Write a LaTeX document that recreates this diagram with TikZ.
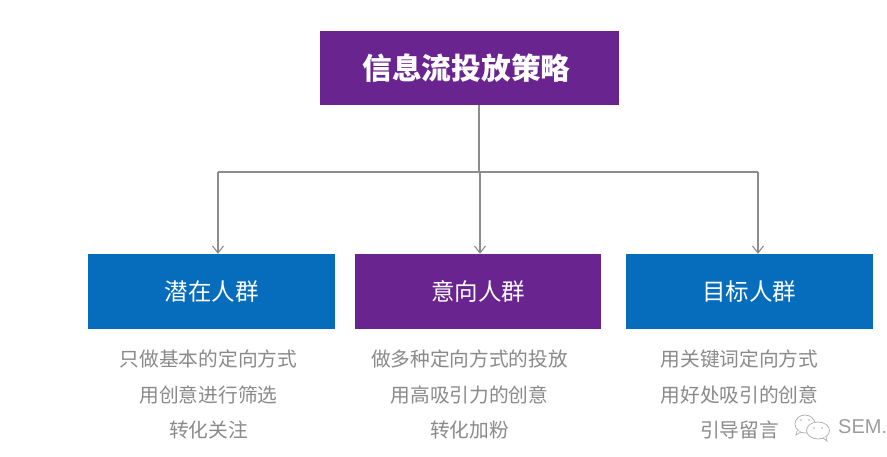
\documentclass[tikz,border=0pt]{standalone}
\usepackage{fontspec}
\newfontfamily\cjk{Noto Sans CJK SC}
\setmainfont{Liberation Sans}
\usetikzlibrary{arrows.meta}
\definecolor{purp}{HTML}{6A2490}
\definecolor{blu}{HTML}{066CBC}
\definecolor{txt}{HTML}{8A8A8A}
\definecolor{lin}{HTML}{8C8C8C}
\tikzset{x=1pt,y=-1pt,
 boxnode/.style={minimum height=75pt,inner sep=0pt,text=white,font=\cjk\fontsize{23.5}{26}\selectfont},
 desc/.style={text=txt,font=\cjk\fontsize{19.7}{22}\selectfont,inner sep=0pt},
 conn/.style={draw=lin,line width=1.1pt},
 arr/.style={conn,-{Straight Barb[length=7pt,width=11pt]}},
 icon/.style={draw=txt!70,line width=0.7pt,fill=white}}
\begin{document}
\begin{tikzpicture}
\useasboundingbox[fill=white] (0,0) rectangle (887,456);
\node[boxnode,fill=purp,minimum width=299pt,minimum height=74pt,font=\cjk\bfseries\fontsize{29.7}{32}\selectfont] (top) at (469,68) {信息流投放策略\hspace*{5pt}};
\node[boxnode,fill=blu,minimum width=247pt] (a) at (211.5,291.5) {潜在人群};
\node[boxnode,fill=purp,minimum width=246pt] (b) at (478,291.5) {意向人群};
\node[boxnode,fill=blu,minimum width=247pt] (c) at (749,291.5) {目标人群};
\coordinate (j) at (479,172);
\coordinate (jl) at (218,172);
\coordinate (jm) at (480,172);
\coordinate (jr) at (758,172);
\draw[conn] (top.south -| j) -- (j);
\draw[conn] (jl) -- (jr);
\draw[arr] (jl) -- (jl |- a.north);
\draw[arr] (jm) -- (jm |- b.north);
\draw[arr] (jr) -- (jr |- c.north);
\node[desc] (a1) at (208.5,359) {只做基本的定向方式};
\node[desc] (a2) at (208.5,394.5) {用创意进行筛选};
\node[desc] (a3) at (208.5,430) {转化关注};
\node[desc] (b1) at (469.5,359) {做多种定向方式的投放};
\node[desc] (b2) at (469.5,394.5) {用高吸引力的创意};
\node[desc] (b3) at (469.5,430) {转化加粉};
\node[desc] (c1) at (739.5,359) {用关键词定向方式};
\node[desc] (c2) at (739.5,394.5) {用好处吸引的创意};
\node[desc] (c3) at (739.5,430) {引导留言};
% WeChat-style logo
\draw[icon] (805,424) ellipse (10pt and 9pt);
\draw[icon] (797,431) -- (796,435) -- (801,432);
\draw[icon] (818,430.5) ellipse (11.5pt and 8.5pt);
\draw[icon] (823,438) -- (827,441) -- (826,437);
\fill[txt!70] (801,420) circle (0.9pt) (809,420) circle (0.9pt) (814,428) circle (0.8pt) (822,428) circle (0.8pt);
\node[desc,anchor=west,text=txt!85,font=\fontsize{20}{22}\selectfont] (w) at (838,427) {SEM.};
\end{tikzpicture}
\end{document}
